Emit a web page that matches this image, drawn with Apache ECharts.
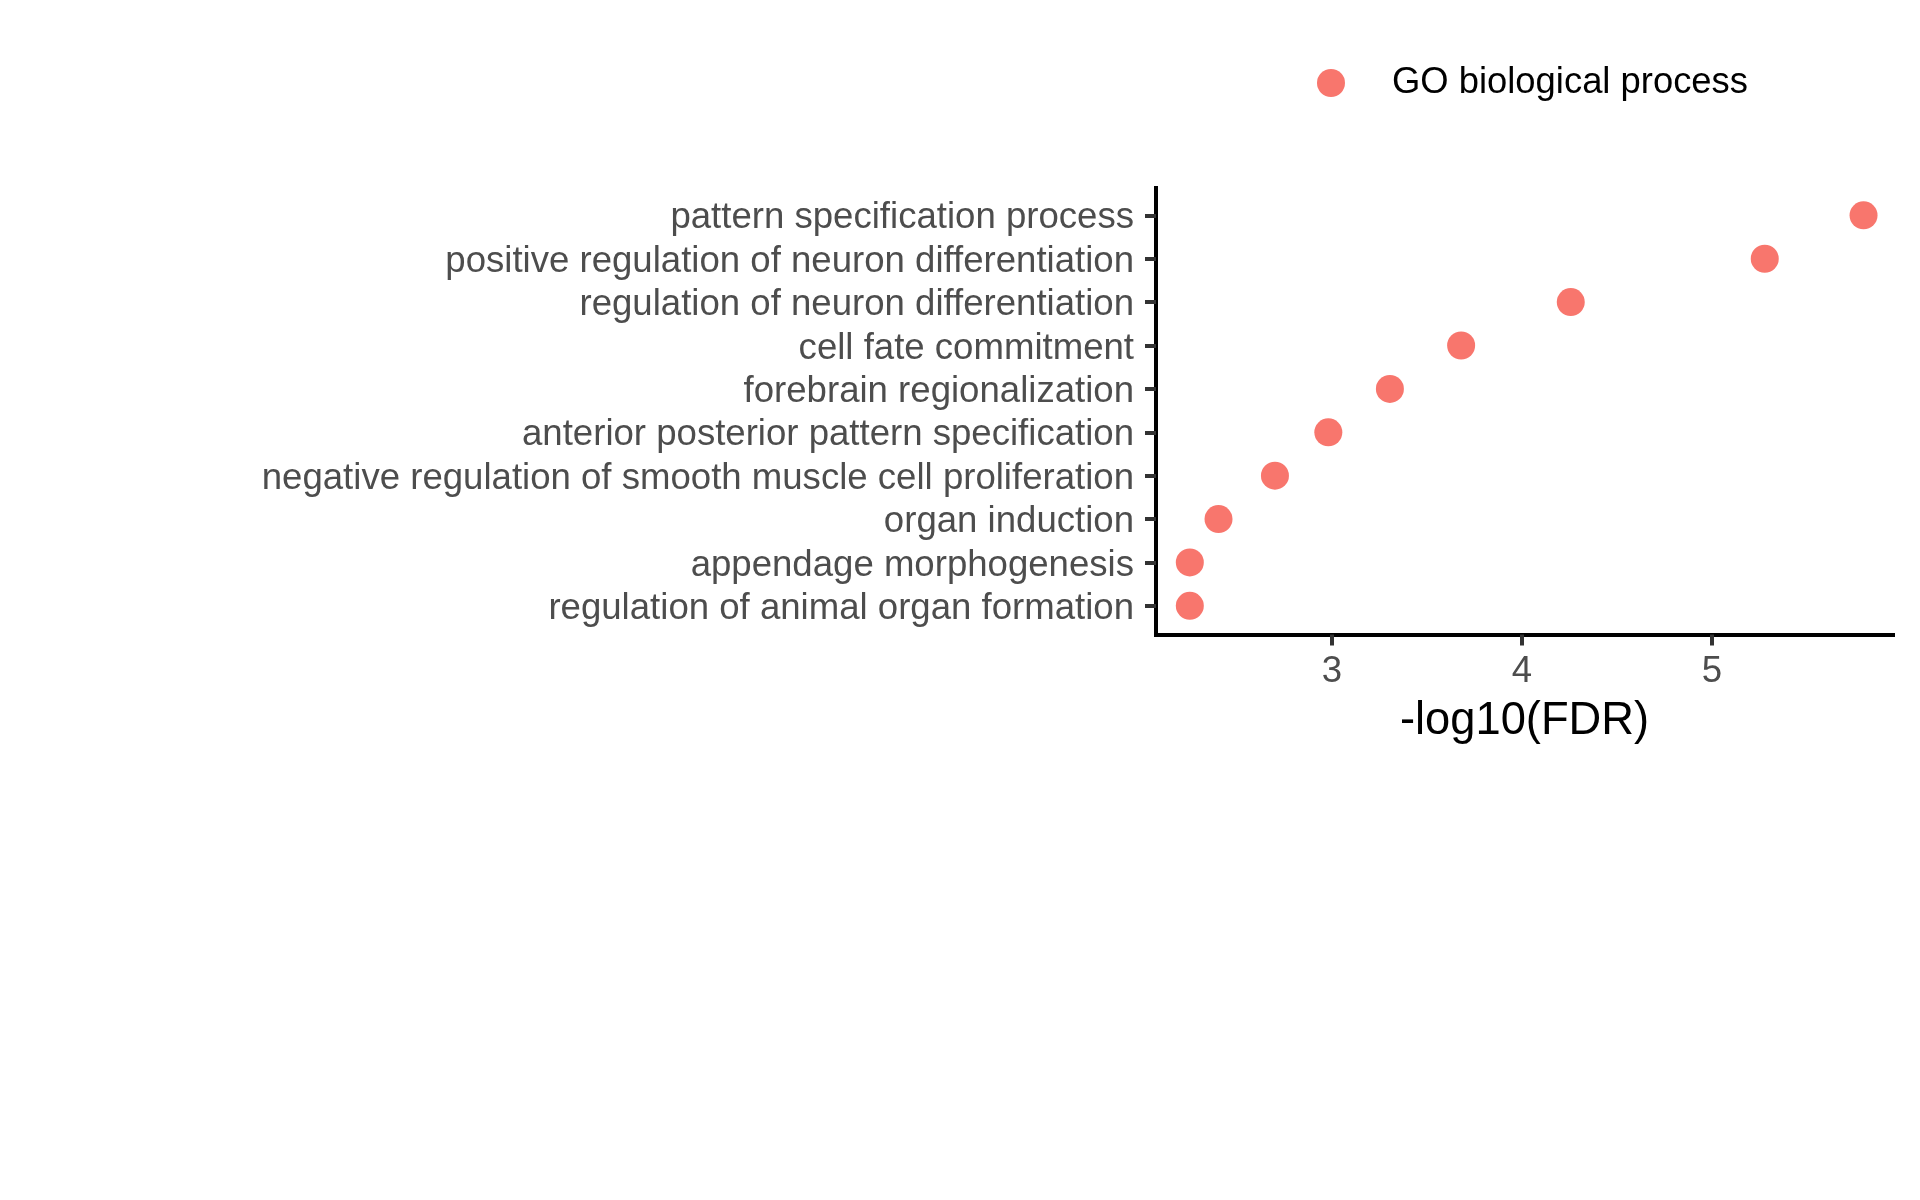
<!DOCTYPE html>
<html>
<head>
<meta charset="utf-8">
<script src="https://cdn.jsdelivr.net/npm/echarts@6/dist/echarts.min.js"></script>
<style>
html,body{margin:0;padding:0;background:#fff;}
#chart{width:1920px;height:1200px;}
</style>
</head>
<body>
<div id="chart"></div>
<script>
// Categories, top to bottom
const categories = [
  "pattern specification process",
  "positive regulation of neuron differentiation",
  "regulation of neuron differentiation",
  "cell fate commitment",
  "forebrain regionalization",
  "anterior posterior pattern specification",
  "negative regulation of smooth muscle cell proliferation",
  "organ induction",
  "appendage morphogenesis",
  "regulation of animal organ formation"
];
// -log10(FDR) values
const values = [5.798, 5.278, 4.257, 3.680, 3.305, 2.981, 2.700, 2.403, 2.252, 2.252];
const xTicks = [3, 4, 5];
const seriesName = "GO biological process";

const rowPositions = categories.map((c, i) => i + 1);
const points = values.map((v, i) => [v, rowPositions[i]]);

const FONT = "Liberation Sans, Arial, Helvetica, sans-serif";
const chart = echarts.init(document.getElementById('chart'), null, {renderer: 'canvas'});
chart.setOption({
  backgroundColor: '#ffffff',
  animation: false,
  textStyle: {fontFamily: FONT},
  legend: {
    left: 1312,
    top: 60,
    itemWidth: 28,
    itemHeight: 28,
    icon: 'circle',
    data: [seriesName],
    textStyle: {fontFamily: FONT, fontSize: 36.4, color: '#000000', padding: [0, 0, 3, 42]}
  },
  grid: {left: 1156, top: 188, width: 737, height: 446.5, containLabel: false},
  xAxis: {
    type: 'value',
    min: 2.074,
    max: 5.953,
    name: '-log10(FDR)',
    nameLocation: 'middle',
    nameGap: 65,
    nameTextStyle: {fontFamily: FONT, fontSize: 45.3, color: '#000000'},
    axisLine: {show: true, lineStyle: {color: '#000000', width: 4, cap: 'square'}},
    axisTick: {show: true, length: 11, customValues: xTicks, lineStyle: {color: '#333333', width: 4}},
    axisLabel: {customValues: xTicks, margin: 19, fontFamily: FONT, fontSize: 36.6, color: '#4D4D4D'},
    splitLine: {show: false}
  },
  yAxis: {
    type: 'value',
    inverse: true,
    min: 0.37,
    max: 10.66,
    axisLine: {show: true, lineStyle: {color: '#000000', width: 4, cap: 'square'}},
    axisTick: {show: true, length: 11, customValues: rowPositions, lineStyle: {color: '#333333', width: 4}},
    axisLabel: {
      customValues: rowPositions,
      margin: 22,
      fontFamily: FONT, fontSize: 36.6, color: '#4D4D4D',
      formatter: function (v) { return '{a|' + (categories[Math.round(v) - 1] || '') + '}'; },
      rich: {
        a: {fontFamily: FONT, fontSize: 36.6, color: '#4D4D4D', padding: [6, 0, 0, 0]}
      }
    },
    splitLine: {show: false}
  },
  series: [{
    name: seriesName,
    type: 'scatter',
    symbol: 'circle',
    symbolSize: 28,
    itemStyle: {color: '#F8766D', opacity: 1},
    data: points
  }]
});
</script>
</body>
</html>
